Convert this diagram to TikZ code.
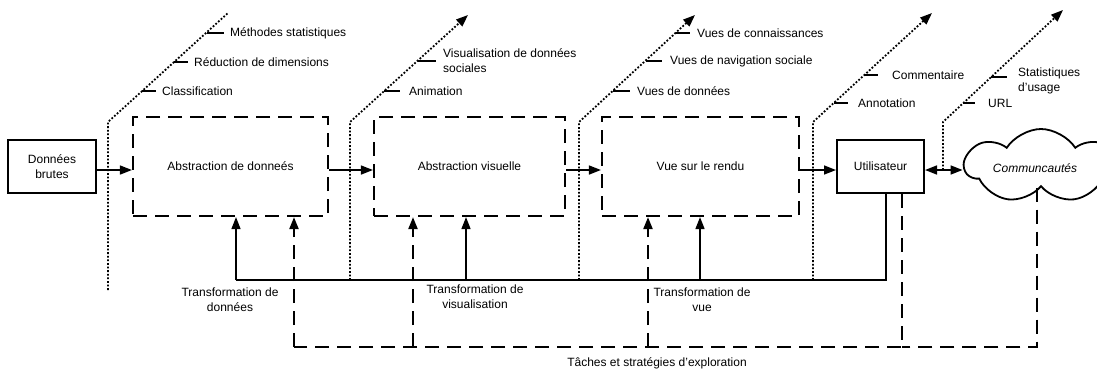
\documentclass[tikz,border=0pt]{standalone}
\usepackage{fontspec}
\setmainfont{Liberation Sans}
\usetikzlibrary{arrows.meta,shapes.symbols}
\begin{document}
\begin{tikzpicture}[x=1pt,y=-1pt,
  every node/.style={font=\fontsize{12}{15}\selectfont},
  tip/.style={-{Triangle[length=12pt,width=9pt]}},
  solidbox/.style={draw,line width=2pt,inner sep=0pt},
  dbox/.style={draw,line width=2.2pt,dash pattern=on 14pt off 8pt,inner sep=0pt},
  sep/.style={line width=1.8pt,dash pattern=on 1.8pt off 1.8pt},
  separ/.style={sep,tip},
  tick/.style={line width=1.6pt},
  conn/.style={line width=1.6pt,tip},
  dconn/.style={line width=2.2pt,dash pattern=on 14pt off 8pt,tip},
  dline/.style={line width=2.2pt,dash pattern=on 14pt off 8pt},
  sline/.style={line width=1.6pt},
  lab/.style={anchor=west,align=left,inner sep=0pt},
  clab/.style={align=center,inner sep=0pt}]
\useasboundingbox (0,0) rectangle (1097,373);

% main boxes
\node[solidbox,minimum width=88pt,minimum height=53pt,align=center] (brutes) at (52,166.5) {Donn\'ees\\brutes};
\node[dbox,minimum width=195pt,minimum height=99pt] (absd) at (230.5,166.5) {Abstraction de donne\'es};
\node[dbox,minimum width=191pt,minimum height=99pt] (absv) at (469.5,166.5) {Abstraction visuelle};
\node[dbox,minimum width=197pt,minimum height=99pt] (vue) at (700.5,166.5) {Vue sur le rendu};
\node[solidbox,minimum width=87pt,minimum height=53pt] (util) at (880.5,166.5) {Utilisateur};
\node[cloud,draw,line width=1.8pt,cloud puffs=7,cloud puff arc=115,aspect=2.1,minimum width=152pt,minimum height=74pt,inner sep=0pt] (cloud) at (1041,166) {};
\node (cloudtxt) at (1035,168) {\itshape Communcaut\'es};

% separators
\coordinate (s1b) at (108,290); \coordinate (s1c) at (108,122); \coordinate (s1t) at (228,13);
\coordinate (s2b) at (350,280); \coordinate (s2c) at (350,122); \coordinate (s2t) at (468,15);
\coordinate (s3b) at (579,280); \coordinate (s3c) at (579,122); \coordinate (s3t) at (695,15);
\coordinate (s4b) at (813,280); \coordinate (s4c) at (813,122); \coordinate (s4t) at (932,13);
\coordinate (s5b) at (943,170); \coordinate (s5c) at (943,122); \coordinate (s5t) at (1063,10);
\draw[sep] (s1b) -- (s1c) -- (s1t);
\draw[separ] (s2b) -- (s2c) -- (s2t);
\draw[separ] (s3b) -- (s3c) -- (s3t);
\draw[separ] (s4b) -- (s4c) -- (s4t);
\draw[separ] (s5b) -- (s5c) -- (s5t);

% ticks and labels
\draw[tick] (207,33) -- (224,33); \node[lab] (t11) at (230,33) {M\'ethodes statistiques};
\draw[tick] (174,62) -- (188,62); \node[lab] (t12) at (194,62) {R\'eduction de dimensions};
\draw[tick] (142,91) -- (156,91); \node[lab] (t13) at (162,91) {Classification};
\draw[tick] (418,61) -- (436,61); \node[lab] (t21) at (443,61) {Visualisation de donn\'ees\\sociales};
\draw[tick] (384,91) -- (400,91); \node[lab] (t22) at (409,91) {Animation};
\draw[tick] (676,33) -- (690,33); \node[lab] (t31) at (697,33) {Vues de connaissances};
\draw[tick] (646,61) -- (662,61); \node[lab] (t32) at (670,61) {Vues de navigation sociale};
\draw[tick] (613,91) -- (630,91); \node[lab] (t33) at (637,91) {Vues de donn\'ees};
\draw[tick] (864,75) -- (878,75); \node[lab] (t41) at (892,75) {Commentaire};
\draw[tick] (834,103) -- (848,103); \node[lab] (t42) at (858,103) {Annotation};
\draw[tick] (991,77) -- (1007,77); \node[lab] (t51) at (1018,81) {Statistiques\\d’usage};
\draw[tick] (963,103) -- (975,103); \node[lab] (t52) at (988,103) {URL};

% forward arrows
\draw[conn] (brutes.east |- 0,170) -- (absd.west |- 0,170);
\draw[conn] (absd.east |- 0,170) -- (absv.west |- 0,170);
\draw[conn] (absv.east |- 0,170) -- (vue.west |- 0,170);
\draw[conn] (vue.east |- 0,170) -- (util.west |- 0,170);
\draw[line width=1.6pt,{Triangle[length=12pt,width=9pt]}-{Triangle[length=12pt,width=9pt]}] (util.east |- 0,170) -- (cloud.west |- 0,170);

% solid feedback
\coordinate (fu) at (886,280);
\draw[sline] (util.south -| fu) -- (fu) -- (236,280);
\draw[conn] (236,280) -- (absd.south -| 236,0);
\draw[conn] (466,280) -- (absv.south -| 466,0);
\draw[conn] (700,280) -- (vue.south -| 700,0);

% dashed exploration
\coordinate (du) at (902,347);
\coordinate (dc) at (1037,347);
\draw[dline] (util.south -| du) -- (du) -- (294,347);
\draw[dline] (cloud.south -| dc) -- (dc) -- (du);
\draw[dconn] (294,347) -- (absd.south -| 294,0);
\draw[dconn] (413,347) -- (absv.south -| 413,0);
\draw[dconn] (648,347) -- (vue.south -| 648,0);

% bottom labels
\node[clab] (l1) at (230,300) {Transformation de\\donn\'ees};
\node[clab] (l2) at (475,297) {Transformation de\\visualisation};
\node[clab] (l3) at (702,300) {Transformation de\\vue};
\node[clab] (l4) at (657,363) {T\^aches et strat\'egies d’exploration};
\end{tikzpicture}
\end{document}
